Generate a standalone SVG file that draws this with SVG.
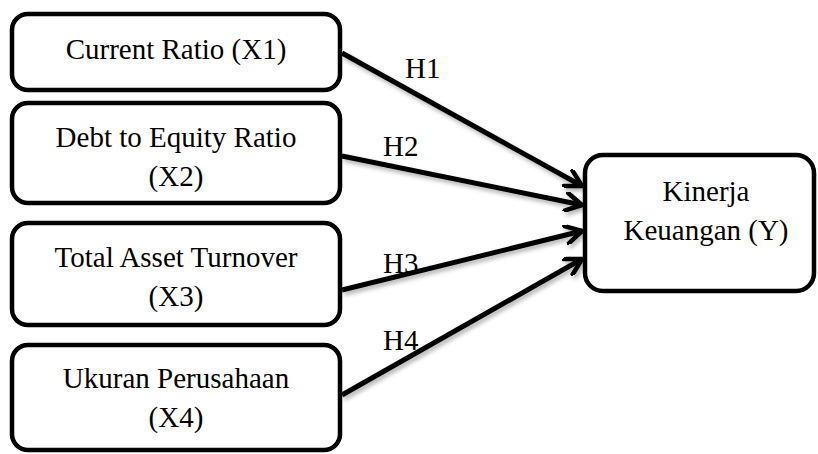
<svg xmlns="http://www.w3.org/2000/svg" width="818" height="454" viewBox="0 0 818 454">
<style>
.box{fill:#fff;stroke:#000;stroke-width:4.5}
.t{font-family:"Liberation Serif","Times New Roman",serif;font-size:29px;fill:#000;text-anchor:middle}
.lbl{font-family:"Liberation Serif","Times New Roman",serif;font-size:29px;fill:#000}
.con{stroke:#000;stroke-width:5;fill:none;marker-end:url(#arr)}
</style>
<defs>
<marker id="arr" viewBox="0 0 20 20" refX="18" refY="10" markerWidth="20" markerHeight="20" markerUnits="userSpaceOnUse" orient="auto">
<path d="M2,1 L18,10 L2,19" fill="none" stroke="#000" stroke-width="4.5" stroke-linecap="round" stroke-linejoin="round"/>
</marker>
<filter id="sh" x="-10%" y="-10%" width="120%" height="130%">
<feDropShadow dx="2" dy="3" stdDeviation="2" flood-color="#000" flood-opacity="0.3"/>
</filter>
</defs>
<rect width="818" height="454" fill="#fff"/>
<g id="connectors" filter="url(#sh)">
<line class="con" x1="342" y1="53" x2="582" y2="186"/>
<line class="con" x1="342" y1="156" x2="582" y2="205"/>
<line class="con" x1="342" y1="290" x2="582" y2="231"/>
<line class="con" x1="342" y1="395" x2="582" y2="259"/>
</g>
<g id="labels">
<text class="lbl" x="405" y="78">H1</text>
<text class="lbl" x="383" y="156">H2</text>
<text class="lbl" x="383" y="273">H3</text>
<text class="lbl" x="383" y="350">H4</text>
</g>
<g id="x1">
<rect class="box" x="12" y="14" width="328" height="76" rx="16"/>
<text class="t" x="176" y="59">Current Ratio (X1)</text>
</g>
<g id="x2">
<rect class="box" x="12" y="103" width="328" height="100" rx="16"/>
<text class="t" x="176" y="147">Debt to Equity Ratio</text>
<text class="t" x="176" y="186">(X2)</text>
</g>
<g id="x3">
<rect class="box" x="12" y="223" width="328" height="102" rx="16"/>
<text class="t" x="176" y="267">Total Asset Turnover</text>
<text class="t" x="176" y="306">(X3)</text>
</g>
<g id="x4">
<rect class="box" x="12" y="345" width="328" height="105" rx="16"/>
<text class="t" x="176" y="388">Ukuran Perusahaan</text>
<text class="t" x="176" y="427">(X4)</text>
</g>
<g id="y">
<rect class="box" x="585" y="155" width="229" height="136" rx="18"/>
<text class="t" x="706" y="201">Kinerja</text>
<text class="t" x="706" y="240">Keuangan (Y)</text>
</g>
</svg>
